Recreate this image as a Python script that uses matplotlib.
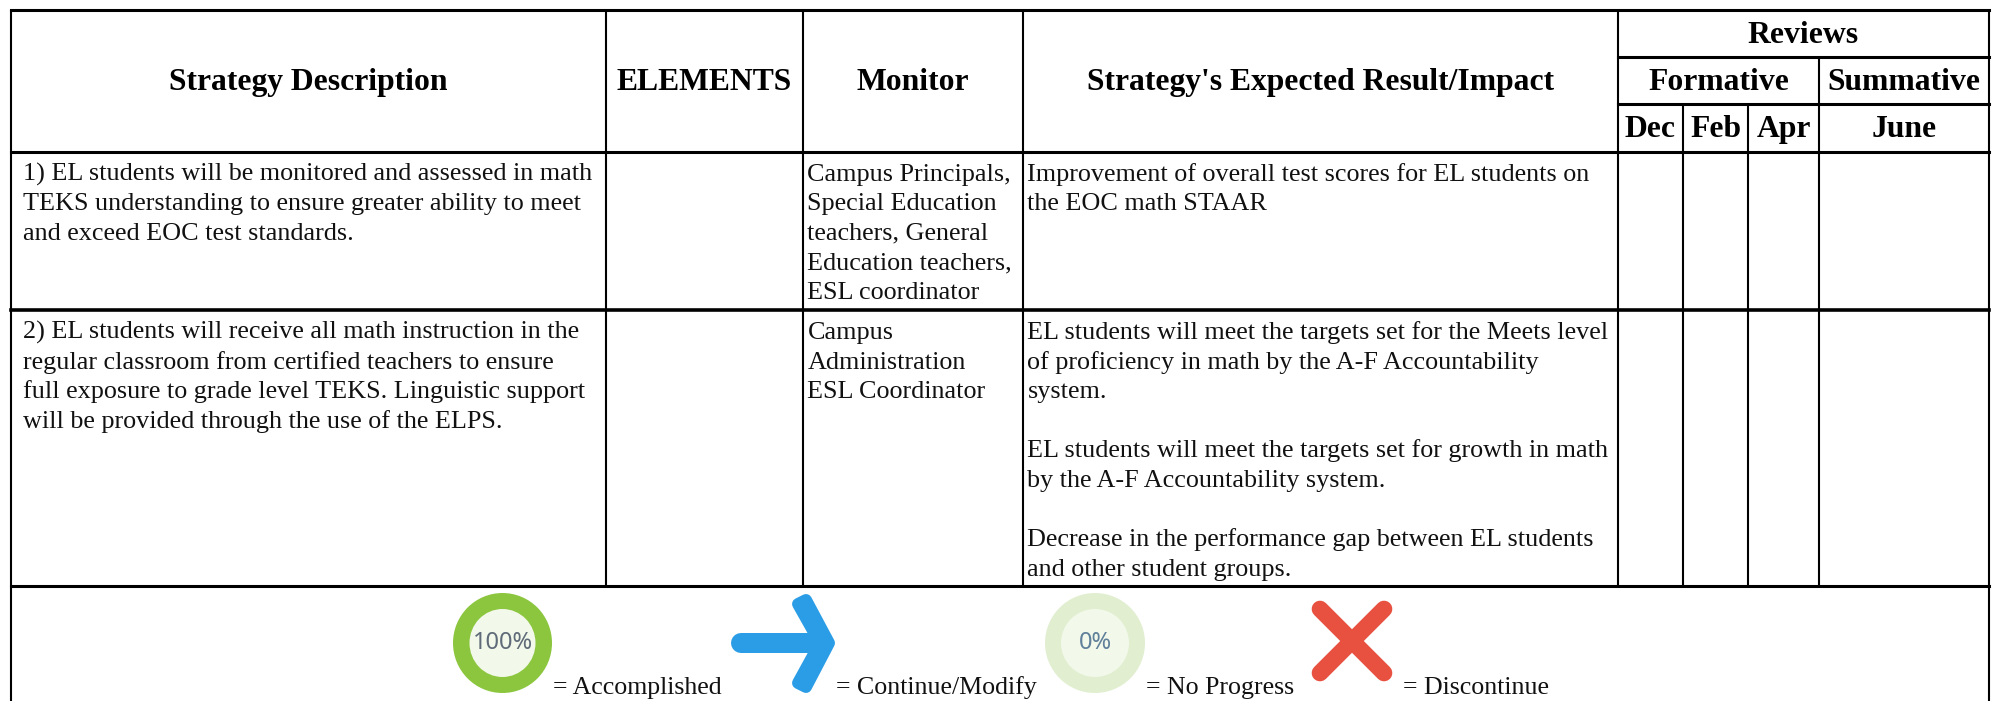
#!/usr/bin/env python3
# coding: utf-8

import matplotlib
matplotlib.use('Agg')
import matplotlib.pyplot as plt
from matplotlib.patches import Ellipse, Polygon

W, H = 1993, 701

# table text
headers = ['Strategy Description', 'ELEMENTS', 'Monitor', "Strategy's Expected Result/Impact"]
reviews = 'Reviews'
formative = 'Formative'
summative = 'Summative'
months = ['Dec', 'Feb', 'Apr', 'June']

row1_desc = ['1) EL students will be monitored and assessed in math',
             'TEKS understanding to ensure greater ability to meet',
             'and exceed EOC test standards.']
row1_monitor = ['Campus Principals,', 'Special Education', 'teachers, General',
                'Education teachers,', 'ESL coordinator']
row1_result = ['Improvement of overall test scores for EL students on',
               'the EOC math STAAR']

row2_desc = ['2) EL students will receive all math instruction in the',
             'regular classroom from certified teachers to ensure',
             'full exposure to grade level TEKS. Linguistic support',
             'will be provided through the use of the ELPS.']
row2_monitor = ['Campus', 'Administration', 'ESL Coordinator']
row2_result = ['EL students will meet the targets set for the Meets level',
               'of proficiency in math by the A-F Accountability',
               'system.',
               '',
               'EL students will meet the targets set for growth in math',
               'by the A-F Accountability system.',
               '',
               'Decrease in the performance gap between EL students',
               'and other student groups.']

legend_labels = ['= Accomplished', '= Continue/Modify', '= No Progress', '= Discontinue']

# grid, in pixels of the picture
col_x = [11, 606, 803, 1023, 1618, 1683, 1748, 1819, 1989]
row_y = [10, 57, 104, 152, 310, 586]
LINE = 29.6
BODY = 18.85
HEAD = 22.8

plt.rcParams['font.family'] = ['Liberation Serif', 'DejaVu Serif']


def hline(ax, y, x0, x1, lw=2.2):
    ax.plot([x0, x1], [y, y], color='black', lw=lw, solid_capstyle='projecting')


def vline(ax, x, y0, y1, lw=1.5):
    ax.plot([x, x], [y0, y1], color='black', lw=lw, solid_capstyle='butt')


def cell_text(ax, x, y, lines):
    for i, s in enumerate(lines):
        ax.text(x, y + i * LINE, s, fontsize=BODY, color='#111111', ha='left', va='baseline')


def head(ax, x, y, s):
    ax.text(x, y, s, fontsize=HEAD, fontweight='bold', color='black', ha='center', va='baseline')


def main():
    fig = plt.figure(figsize=(W / 100, H / 100), dpi=100)
    ax = fig.add_axes([0, 0, 1, 1])
    ax.set_xlim(0, W)
    ax.set_ylim(H, 0)
    ax.axis('off')

    # outer lines and rows
    hline(ax, row_y[0], col_x[0], col_x[-1])
    hline(ax, row_y[1], col_x[4], col_x[-1])
    hline(ax, row_y[2], col_x[4], col_x[-1])
    hline(ax, row_y[3], col_x[0], col_x[-1])
    hline(ax, row_y[4], col_x[0], col_x[-1], 2.6)
    hline(ax, row_y[5], col_x[0], col_x[-1])

    vline(ax, col_x[0], row_y[0], H)
    vline(ax, col_x[-1], row_y[0], H)
    for x in col_x[1:5]:
        vline(ax, x, row_y[0], row_y[5])
    vline(ax, col_x[5], row_y[2], row_y[5])
    vline(ax, col_x[6], row_y[2], row_y[5])
    vline(ax, col_x[7], row_y[1], row_y[5])

    # header
    for i, s in enumerate(headers):
        head(ax, (col_x[i] + col_x[i + 1]) / 2, 90, s)
    head(ax, (col_x[4] + col_x[-1]) / 2, 43, reviews)
    head(ax, (col_x[4] + col_x[7]) / 2, 90, formative)
    head(ax, (col_x[7] + col_x[-1]) / 2, 90, summative)
    for i, s in enumerate(months):
        head(ax, (col_x[4 + i] + col_x[5 + i]) / 2, 137, s)

    # body
    cell_text(ax, col_x[0] + 12, 180.5, row1_desc)
    cell_text(ax, col_x[2] + 4.5, 180.5, row1_monitor)
    cell_text(ax, col_x[3] + 4.5, 180.5, row1_result)
    cell_text(ax, col_x[0] + 12, 339, row2_desc)
    cell_text(ax, col_x[2] + 4.5, 339, row2_monitor)
    cell_text(ax, col_x[3] + 4.5, 339, row2_result)

    # legend icons
    ax.add_patch(Ellipse((502.5, 643), 99, 100, fc='#8cc63f', ec='none'))
    ax.add_patch(Ellipse((502.5, 643), 66, 68, fc='#f2f8ea', ec='none'))
    ax.text(502.5, 643, '100%', fontsize=17, family='Noto Sans', color='#5f6b78',
            ha='center', va='center')

    blue = '#2b9de6'
    ax.plot([741, 822], [643, 643], color=blue, lw=14.4, solid_capstyle='round')
    ax.add_patch(Polygon([(806, 600), (829, 643), (806, 687), (798, 683), (820, 643), (798, 604)],
                         closed=True, fc=blue, ec=blue, lw=8.6, joinstyle='round'))

    ax.add_patch(Ellipse((1095, 643), 100, 100, fc='#e1efd0', ec='none'))
    ax.add_patch(Ellipse((1095, 643), 68, 68, fc='#f2f8ea', ec='none'))
    ax.text(1095, 643, '0%', fontsize=17, family='Noto Sans', color='#5f7f9a',
            ha='center', va='center')

    red = '#e8503f'
    ax.plot([1320, 1384], [609, 673], color=red, lw=12, solid_capstyle='round')
    ax.plot([1384, 1320], [609, 673], color=red, lw=12, solid_capstyle='round')

    for x, s in zip([553, 836, 1146, 1403], legend_labels):
        ax.text(x, 694, s, fontsize=18.6, color='#111111', ha='left', va='baseline')

    fig.savefig('out.png', dpi=100, facecolor='white')


if __name__ == '__main__':
    main()
